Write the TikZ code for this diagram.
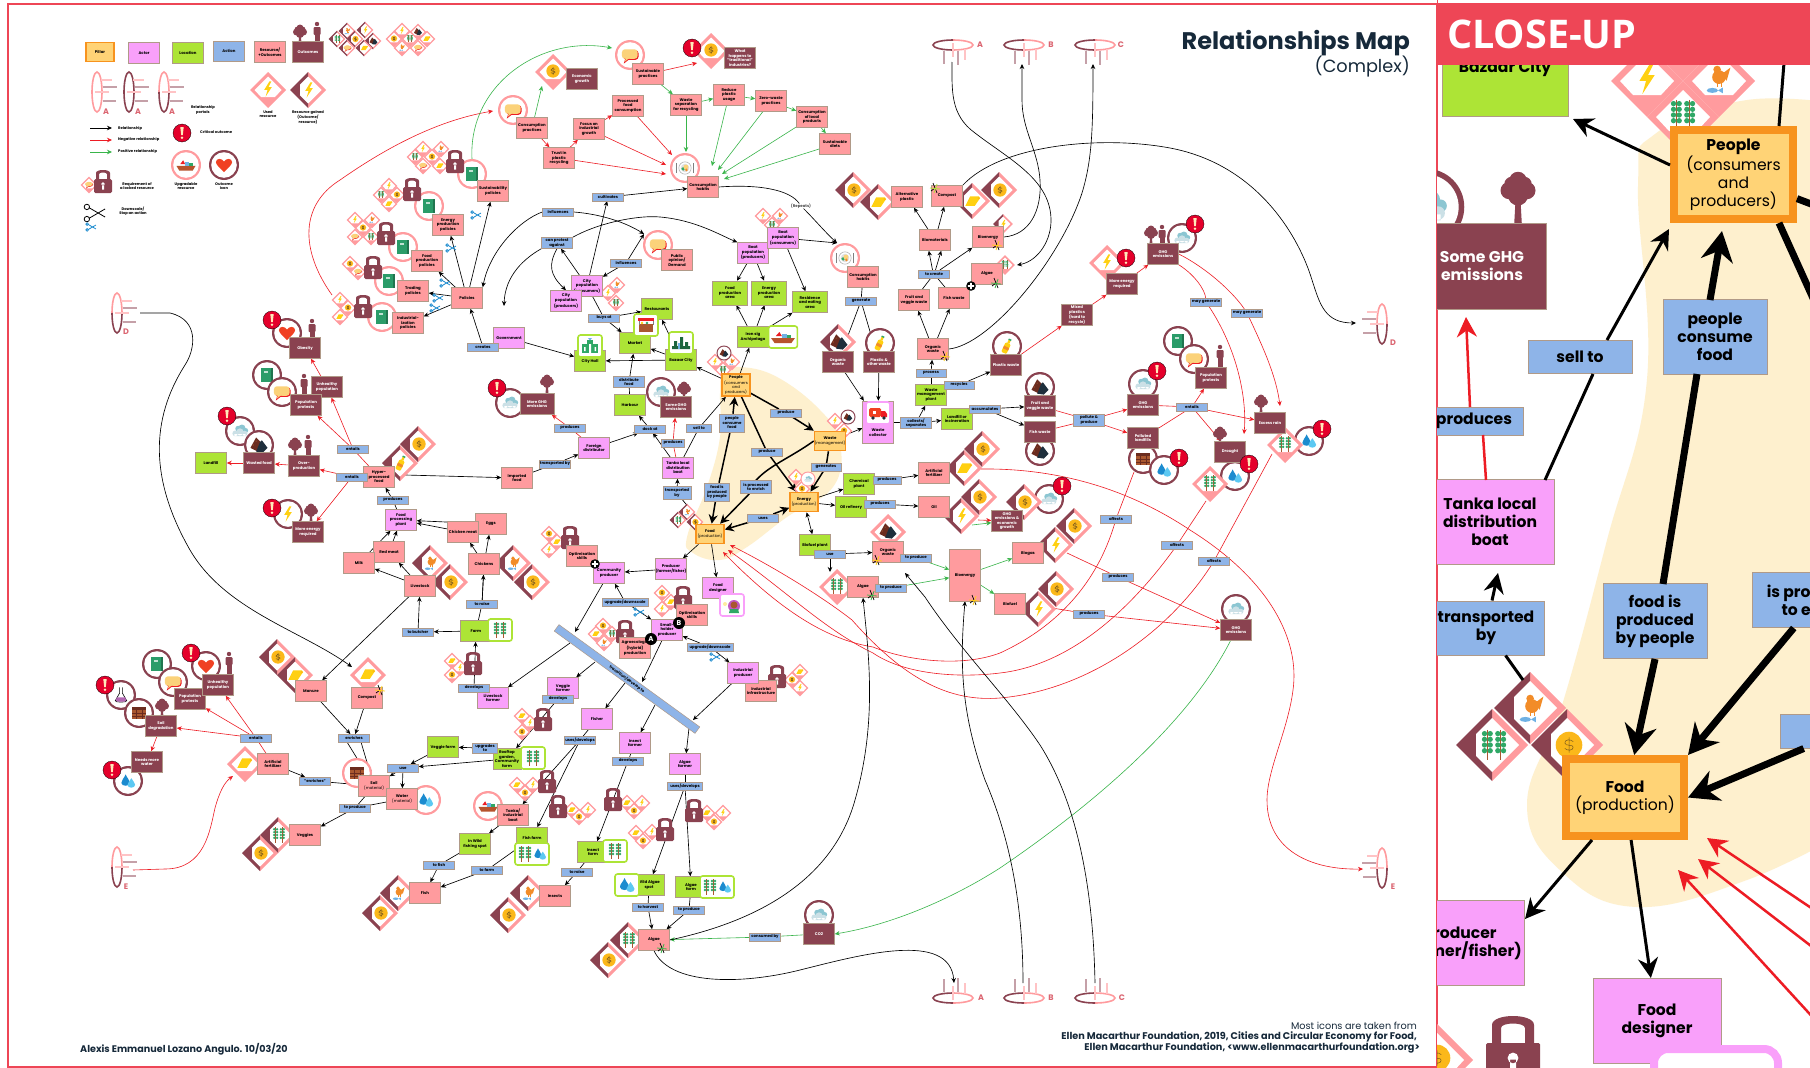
\documentclass[tikz,border=0pt]{standalone}
\usepackage{fontspec}
\setmainfont{Poppins}
\newfontfamily\closefont{Open Sans}
\usetikzlibrary{arrows.meta}

\definecolor{resfill}{HTML}{FF9B9E}
\definecolor{outfill}{HTML}{8A4250}
\definecolor{actorfill}{HTML}{F9A0FA}
\definecolor{locfill}{HTML}{ADE436}
\definecolor{actfill}{HTML}{8EB4E8}
\definecolor{pilfill}{HTML}{FFD376}
\definecolor{pilline}{HTML}{F7931E}
\definecolor{boxline}{HTML}{B09A88}
\definecolor{blobfill}{HTML}{FEF0CE}
\definecolor{badred}{HTML}{ED1C24}
\definecolor{goodgreen}{HTML}{39B54A}
\definecolor{framered}{HTML}{EE4656}
\definecolor{alertred}{HTML}{E4002B}
\definecolor{titleink}{HTML}{16293A}
\definecolor{portalink}{HTML}{DB6470}
\definecolor{boltyel}{HTML}{FFD011}
\definecolor{coinyel}{HTML}{FBB81A}
\definecolor{coinink}{HTML}{7A5A1E}
\definecolor{cloudA}{HTML}{8CC6D2}
\definecolor{cloudB}{HTML}{CBE0E6}
\definecolor{heartred}{HTML}{F04123}
\definecolor{bookgreen}{HTML}{2A9C69}
\definecolor{bubbleyel}{HTML}{FBD27A}
\definecolor{plantgreen}{HTML}{2FA866}
\definecolor{dropblue}{HTML}{1B8BCF}
\definecolor{dropsky}{HTML}{5CC8F2}
\definecolor{soilbrown}{HTML}{A9572F}
\definecolor{wastenavy}{HTML}{1E2F3C}
\definecolor{wastebrown}{HTML}{6B2C1F}
\definecolor{henorange}{HTML}{F28C28}
\definecolor{fishblue}{HTML}{6FB1E4}

\pgfdeclarelayer{back}
\pgfsetlayers{back,main}

\tikzset{
    basebox/.style={draw=boxline, line width=.5pt, inner sep=0pt, align=center,
        minimum width=31pt, minimum height=21pt, text=black,
        font=\fontsize{3.9}{4.5}\selectfont\bfseries},
    resbox/.style={basebox, fill=resfill},
    outbox/.style={basebox, fill=outfill, text=white},
    actorbox/.style={basebox, fill=actorfill},
    locbox/.style={basebox, fill=locfill},
    actbox/.style={basebox, fill=actfill, minimum height=7.5pt},
    pillarbox/.style={basebox, fill=pilfill, draw=pilline, line width=1.6pt,
        minimum width=28pt, minimum height=19pt, font=\fontsize{3.9}{4.5}\selectfont},
    lab/.style={inner sep=0pt, align=center, font=\fontsize{3.7}{4.5}\selectfont\bfseries},
    portallabel/.style={inner sep=0pt, text=portalink, font=\fontsize{8}{8}\selectfont\bfseries},
    big/.style={line width=1pt, font=\fontsize{15.6}{18}\selectfont\bfseries},
    bigpillar/.style={line width=8pt, font=\fontsize{15.6}{18}\selectfont},
    rel/.style={draw=black, line width=.65pt, ->},
    relline/.style={draw=black, line width=.65pt},
    thickrel/.style={draw=black, line width=1.5pt, -{Stealth[length=9pt,width=9pt]}},
    thickline/.style={draw=black, line width=1.5pt},
    badrel/.style={draw=badred, line width=.6pt, ->},
    badline/.style={draw=badred, line width=.6pt},
    goodrel/.style={draw=goodgreen, line width=.6pt, ->},
    goodline/.style={draw=goodgreen, line width=.6pt},
    panelthick/.style={draw=black, line width=7pt, -{Stealth[length=30pt,width=32pt]}},
    panelmid/.style={draw=black, line width=3pt, -{Stealth[length=20pt,width=20pt]}},
    panelbad/.style={draw=badred, line width=2.5pt, -{Stealth[length=20pt,width=20pt]}},
    % glyphs, all about 16 across
    pics/gbolt/.style={code={\fill[boltyel] (1.5,-8)--(-4,1)--(-.5,1)--(-2.5,8)--(4,-2)--(.5,-2)--(3.5,-8)--cycle;}},
    pics/gcoin/.style={code={\fill[coinyel] (0,0) circle (7);
        \draw[coinink,line width=.5pt] (2.2,-1.8) .. controls (1,-3.2) and (-2.5,-3) .. (-2.2,-1) .. controls (-2,.8) and (2.2,-.6) .. (2.2,1.2) .. controls (2.2,3) and (-1,3.2) .. (-2.2,1.8) (0,-4)--(0,4);}},
    pics/gcloud/.style={code={\fill[cloudA] (2,-3) circle (3.8) (-2,-2.5) circle (3) (6,-.5) circle (2.6);
        \fill[cloudB] (-5,2.5) circle (3) (0,1) circle (3.8) (5,2.5) circle (2.8) (-6,3) rectangle (6,5.5);}},
    pics/gheart/.style={code={\fill[heartred] (0,7.5) .. controls (-4,3) and (-8.5,0) .. (-8.5,-3) .. controls (-8.5,-7.5) and (-2,-7.5) .. (0,-3.5) .. controls (2,-7.5) and (8.5,-7.5) .. (8.5,-3) .. controls (8.5,0) and (4,3) .. (0,7.5) -- cycle;}},
    pics/gbook/.style={code={\fill[bookgreen!75!black] (-4,-7) rectangle (6,7); \fill[bookgreen] (-6,-7) rectangle (4,7); \fill[white!70!bookgreen] (-3.5,-4.5) rectangle (1.5,-2.5);}},
    pics/gbubble/.style={code={\fill[badred,rounded corners=3pt] (-7,-5) rectangle (9,5);
        \fill[bubbleyel,rounded corners=3pt] (-8.5,-6) rectangle (8,4); \fill[badred] (-5,4)--(-6.5,9)--(0,4)--cycle; \fill[bubbleyel] (-4,3)--(-5.5,7)--(-.5,3)--cycle;}},
    pics/gplate/.style={code={\draw[gray!60,line width=.6pt,fill=white] (0,0) circle (6.5); \fill[gray!25] (0,0) circle (4.5);
        \fill[plantgreen] (-2,1) circle (2); \fill[bubbleyel] (1,-1) circle (2.6); \fill[henorange] (1.5,2) circle (1.5);
        \draw[gray,line width=.5pt] (-9,-5)--(-9,5) (9,-5)--(9,5);}},
    pics/gplant/.style={code={\foreach \sx in {-3.5,3.5} {\draw[soilbrown,line width=.5pt] (\sx,-8)--(\sx,8);
        \foreach \sy in {-6,-3,0,3} {\fill[plantgreen] (\sx-1.5,\sy) circle (1.4) (\sx+1.5,\sy) circle (1.4);}}}},
    pics/gdrop/.style={code={\fill[dropblue] (-2.5,-7) .. controls (-4,-3) and (-7,-1) .. (-7,2) .. controls (-7,6) and (2,6) .. (2,2) .. controls (2,-1) and (-1,-3) .. (-2.5,-7) -- cycle;
        \fill[dropsky] (3.5,-3) .. controls (2,0) and (-.5,2) .. (-.5,4) .. controls (-.5,8) and (7.5,8) .. (7.5,4) .. controls (7.5,2) and (5,0) .. (3.5,-3) -- cycle;}},
    pics/gsoil/.style={code={\fill[soilbrown] (-7,-6) rectangle (7,6); \fill[wastebrown] (-7,-6) rectangle (7,-3);
        \draw[wastebrown,line width=.4pt] (-7,0)--(7,0) (-7,3)--(7,3) (-3,-3)--(-3,6) (3,-3)--(3,6);}},
    pics/gchicken/.style={code={\fill[henorange] (-1,-5) circle (2) (0,-1) circle (3.6) (2,-3)--(6,-6)--(4,1)--cycle; \draw[henorange,line width=.5pt] (-1,2)--(-1,4) (1,2)--(1,4);
        \fill[fishblue] (-3.5,6) ellipse (3 and 1.3); \fill[fishblue] (-.5,6)--(2,4.5)--(2,7.5)--cycle;}},
    pics/gplastic/.style={code={\fill[boltyel] (-3,-5)--(6,-5) .. controls (8,-5) and (8,-1) .. (6,-1) -- (2,5)--(-8,5)--cycle; \fill[coinyel] (6,-3) circle (1.2);}},
    pics/gwaste/.style={code={\fill[wastebrown] (-9,3)--(-3,-8)--(2,-3)--(-1,7)--cycle; \fill[wastenavy] (-3,7)--(1,-3)--(3,-5)--(9,3)--(4,8)--cycle; \fill[soilbrown] (-6,0) circle (.6) (-3,-4) circle (.6);}},
    pics/gboat/.style={code={\fill[soilbrown!80!heartred] (-10,1)--(10,1)--(7,6)--(-7,6)--cycle; \fill[badred] (-6,-1)--(-3,-5)--(-1,-1)--cycle; \fill[fishblue] (-1,-3) rectangle (3,1); \fill[plantgreen] (3,-2) rectangle (7,1);}},
    pics/gbottle/.style={code={\begin{scope}[rotate=-25]\fill[boltyel,rounded corners=1pt] (-3,-3) rectangle (3,8); \fill[boltyel] (-1.2,-7) rectangle (1.2,-3); \fill[plantgreen] (-1.5,-8) rectangle (1.5,-6.5); \fill[henorange] (-3,1) rectangle (3,4);\end{scope}}},
    pics/gflask/.style={code={\draw[black,line width=.6pt,fill=white] (-1.5,-8)--(-1.5,-2)--(-6,6) .. controls (-6.5,8) and (6.5,8) .. (6,6) -- (1.5,-2)--(1.5,-8); \fill[violet!60] (-4.5,2.5)--(4.5,2.5)--(5.5,6) .. controls (5.5,7.5) and (-5.5,7.5) .. (-5.5,6) -- cycle;}},
    pics/gcity/.style={code={\fill[plantgreen] (-8,7) rectangle (8,-2); \fill[plantgreen] (-3,-6) rectangle (3,7); \fill[fishblue] (-2,-8)--(2,-8)--(0,-5.5)--cycle; \fill[white] (-6,1) rectangle (-4.5,5) (4.5,1) rectangle (6,5) (-1,-2) rectangle (1,7);}},
    pics/gmarket/.style={code={\fill[soilbrown] (-7,-1) rectangle (7,7); \fill[badred] (-8,-7) rectangle (8,-4); \draw[gray,line width=.5pt] (-7,-4)--(-7,0) (7,-4)--(7,0); \fill[boltyel] (-4,-2) circle (1.4); \fill[plantgreen] (1,-2) circle (1.4);}},
    pics/gbazaar/.style={code={\fill[plantgreen!60!black] (-9,6) rectangle (9,3) (-7,6) rectangle (-4,-2) (-1,6) rectangle (2,-6) (4,6) rectangle (7,-1); \fill[fishblue] (-3,6) rectangle (-1,0);}},
    pics/gtruck/.style={code={\fill[heartred,rounded corners=1.5pt] (-9,-5) rectangle (3,4); \fill[badred] (3,-2)--(7,-2)--(9,1)--(9,4)--(3,4)--cycle; \fill[wastenavy] (-5,5) circle (1.8) (6,5) circle (1.8); \fill[white] (-5,-2) rectangle (-2,1);}},
    pics/gdesigner/.style={code={\fill[violet!45!actorfill] (2,1) circle (6); \fill[soilbrown] (2,0) circle (3.5); \fill[plantgreen] (-3,8)--(7,8)--(6,4)--(-2,4)--cycle; \fill[boltyel!40] (-7,-1) circle (2);}},
    pics/gsciss/.style={code={\draw[#1,line width=.8pt] (-6,-4)--(6,3) (-6,4)--(6,-3); \draw[#1,line width=.8pt] (-7.5,-4.5) circle (2) (-7.5,4.5) circle (2);}},
    pics/gtree/.style={code={\fill[outfill] (-1,3)--(1,3)--(1.5,12)--(-1.5,12)--cycle; \fill[outfill] (0,-5) circle (3.5) (-3.5,-1) circle (3.5) (3.5,-1) circle (3.5) (0,1) circle (4) (-2.5,-3.5) circle (3) (2.5,-3.5) circle (3);}},
    pics/gperson/.style={code={\fill[outfill] (0,-9) circle (2.2); \fill[outfill,rounded corners=1pt] (-3.5,-6) rectangle (3.5,2); \fill[outfill] (-2.5,1) rectangle (2.5,11);}},
    pics/galert/.style={code={\fill[alertred] (0,0) circle (9); \draw[black,line width=.3pt] (0,0) circle (9);
        \fill[pilfill!50] (-1.7,-6)--(1.7,-6)--(.8,2.2)--(-.8,2.2)--cycle (0,4.7) circle (1.4);}},
    pics/glock/.style={code={\fill[outfill,rounded corners=1.5pt] (-9,-3) rectangle (9,11);
        \fill[outfill,even odd rule] (-7,-1)--(-7,-9) .. controls (-7,-13) and (7,-13) .. (7,-9)--(7,-1)--cycle (-4,-1)--(-4,-8) .. controls (-4,-10) and (4,-10) .. (4,-8)--(4,-1)--cycle;
        \fill[white] (0,2) circle (1.8) (-1,2.5) rectangle (1,7.5);}},
    pics/gplus/.style={code={\fill[black] (0,0) circle (6); \fill[white] (-1,-4) rectangle (1,4) (-4,-1) rectangle (4,1);}},
    pics/gmark/.style={code={\draw[black,line width=.7pt] (-2,-5)--(2,5) (-4,3)--(0,0); \draw[#1,line width=.8pt] (-5,0)--(5,1) (2,-4)--(-1,5);}},
    % tiles and rings that hold a glyph
    pics/ut/.style={code={\fill[resfill] (-18,0)--(0,-18)--(18,0)--(0,18)--cycle;
        \fill[white] (-13.5,0)--(0,-13.5)--(13.5,0)--(7,7)--(-7,7)--cycle; \pic[transform shape,scale=.95] at (0,-1) {#1};}},
    pics/gt/.style={code={\fill[resfill] (0,-18)--(18,0)--(0,18)--cycle; \fill[outfill] (0,-18)--(-18,0)--(0,18)--cycle;
        \fill[white] (-8,-5.5)--(0,-13.5)--(13.5,0)--(0,13.5)--(-8,5.5)--cycle; \pic[transform shape,scale=.95] at (1,0) {#1};}},
    pics/pr/.style={code={\fill[resfill] (0,0) circle (15); \fill[white] (0,0) circle (12.8); \pic[transform shape,scale=.95] {#1};}},
    pics/dr/.style={code={\fill[outfill] (0,0) circle (15); \fill[white] (0,0) circle (12.8); \pic[transform shape,scale=.95] {#1};}},
    pics/gframe/.style={code={\draw[locfill,line width=1.6pt,fill=white,rounded corners=2.5pt] (-12,-11) rectangle (12,11); \pic[transform shape] {#1};}},
    pics/pframe/.style={code={\draw[actorfill,line width=1.6pt,fill=white,rounded corners=2.5pt] (-12,-11) rectangle (12,11); \pic[transform shape] {#1};}},
    pics/gframewide/.style 2 args={code={\draw[locfill,line width=1.6pt,fill=white,rounded corners=2.5pt] (-17,-11) rectangle (17,11); \pic at (-7,0) {#1}; \pic[transform shape,scale=.8] at (8,0) {#2};}},
    pics/portal/.style 2 args={code={
        \draw[#1,line width=1.6pt] (-5,0) .. controls (-5,-11) and (-2.8,-20) .. (0,-20) .. controls (2.8,-20) and (5,-11) .. (5,0);
        \draw[#2,line width=1.6pt] (-5,0) .. controls (-5,11) and (-2.8,20) .. (0,20) .. controls (2.8,20) and (5,11) .. (5,0);
        \draw[resfill!60,line width=1.5pt] (4,-12)--(15,-12) (-2,0)--(12,0);
        \draw[outfill!50,line width=1.5pt] (6,-5)--(20,-5) (6,9)--(19,9);}},
}

\newcommand{\tiles}[1]{\foreach \x/\y/\g in {#1} {\pic[scale=.47] at (\x,\y) {ut=\g};}}
\newcommand{\gtiles}[1]{\foreach \x/\y/\g in {#1} {\pic[scale=.47] at (\x,\y) {gt=\g};}}

\begin{document}
\begin{tikzpicture}[x=1pt, y=-1pt, >={Stealth[length=5pt,width=4.5pt]}]
    \useasboundingbox (0,0) rectangle (1810,1068);
    \begin{pgfonlayer}{back}
        \fill[white] (0,0) rectangle (1810,1068);
        \fill[blobfill] plot[smooth cycle, tension=.7] coordinates {(740,367) (777,377) (820,410) (840,443) (833,487) (787,517) (747,547) (720,560) (693,553) (687,537) (707,487) (720,437) (720,393) (723,373)};
    \end{pgfonlayer}
    \draw[framered, line width=2pt] (8,4) rectangle (1437,1067);

    % icons behind the boxes
    \foreach \x/\y/\g in {472/174/gbook,429/206/gbook,403/247/gbook,389/281/gbook,382/317/gbook,513/110/gbubble,630/55/gbubble,658/245/gbubble,685/168/gplate,845/258/gplate,357/773/gsoil,426/800/gdrop,488/806/gboat,186/165/gboat} {
        \pic at (\x,\y) {pr=\g};
    }
    \foreach \x/\y/\g in {224/165/gheart,287/333/gheart,267/375/gbook,282/392/gbubble,240/431/gcloud,259/445/gwaste,288/514/gbolt,510/403/gcloud,661/392/gcloud,880/343/gbottle,1007/346/gbottle,1182/238/gcloud,1040/387/gwaste,1040/451/gwaste,1143/384/gcloud,1143/459/gsoil,1164/470/gdrop,1178/341/gbook,1194/359/gbubble,1309/441/gdrop,1235/476/gdrop,1049/499/gcloud,1236/609/gcloud,819/915/gcloud,121/695/gflask,139/713/gsoil,157/664/gbook,173/682/gbubble,206/666/gheart,128/781/gdrop} {
        \pic at (\x,\y) {dr=\g};
    }
    \foreach \x/\y/\g in {268/90/gbolt,368/675/gplastic,245/764/gplastic,711/51/gcoin,553/72/gcoin,1107/263/gbolt,888/532/gwaste,1285/445/gplant,1210/484/gplant,837/587/gplant} {
        \pic at (\x,\y) {ut=\g};
    }
    \foreach \x/\y/\g in {308/90/gbolt,418/444/gcoin,400/463/gbottle,853/190/gcoin,878/202/gplastic,972/201/gplastic,999/190/gcoin,964/468/gplastic,982/449/gcoin,961/516/gbolt,979/497/gcoin,1024/502/gcoin,1055/545/gbolt,1074/526/gcoin,1038/609/gbolt,1056/589/gcoin,430/563/gchicken,450/582/gcoin,513/563/gchicken,532/582/gcoin,277/657/gcoin,295/675/gplastic,278/835/gplant,260/853/gcoin,398/893/gchicken,380/913/gcoin,528/893/gchicken,508/915/gcoin,628/940/gplant,608/960/gcoin,838/342/gwaste} {
        \pic at (\x,\y) {gt=\g};
    }
    \pic[scale=.55] at (1003,224) {gt=gbolt};
    \pic[scale=.55] at (1005,265) {ut=gplant};
    \gtiles{347/31/gchicken,365/30/gbolt,337/39/gplant,355/39/gcoin,373/41/gwaste,347/48/gbubble,364/48/gplastic,687/512/gchicken,678/520/gplant,695/522/gcoin}
    \tiles{402/31/gbolt,418/32/gwaste,394/39/gcoin,410/39/gplant,427/39/gplastic,402/48/gchicken,418/48/gbubble,89/185/gbubble}
    \tiles{423/149/gbolt,441/149/gchicken,415/157/gplant,432/157/gcoin,423/166/gbubble,440/166/gplastic}
    \tiles{389/186/gbolt,381/195/gplant,397/195/gcoin,389/204/gplastic}
    \tiles{355/220/gbolt,372/220/gchicken,363/228/gcoin,355/237/gbubble,371/237/gplant}
    \tiles{350/264/gcoin,358/272/gbubble,340/300/gbolt,348/308/gcoin,340/317/gplastic}
    \tiles{763/216/gbolt,780/216/gchicken,772/225/gplant,617/285/gchicken,608/293/gbolt,616/303/gplant}
    \tiles{715/362/gbolt,732/362/gchicken,723/370/gplant,835/421/gbolt,844/431/gcoin,796/477/gbolt,802/489/gcoin}
    \tiles{549/534/gcoin,557/542/gplastic,549/550/gbolt,662/593/gcoin,671/602/gplastic,662/609/gbolt}
    \tiles{603/626/gcoin,612/634/gplant,596/634/gplastic,604/643/gchicken,800/672/gplastic,792/680/gcoin,800/688/gbolt}
    \tiles{452/661/gplastic,460/668/gbolt,452/675/gcoin,522/716/gplastic,530/723/gbolt,522/732/gcoin,517/785/gplastic,533/785/gbolt,525/793/gcoin}
    \tiles{572/810/gplastic,588/810/gbolt,579/817/gcoin,627/803/gplastic,642/803/gbolt,634/811/gcoin,636/833/gplastic,652/832/gbolt,643/841/gcoin,707/813/gplastic,723/813/gbolt,714/822/gcoin}
    \pic[scale=.5] at (724,353) {dr=gwaste};
    \pic[scale=.5] at (848,417) {dr=gwaste};
    \pic[scale=.5] at (808,479) {pr=gcloud};
    \foreach \x/\y in {103/182,455/162,412/190,386/234,373/268,363/307,473/664,543/720,547/782,570/538,683/598,625/632,777/677,558/807,613/800,665/830,694/811} {
        \pic at (\x,\y) {glock};
    }
    \foreach \x/\y in {300/33,547/383,684/390,1151/234,1261/403,1220/435,311/512,295/446,162/707} {
        \pic at (\x,\y) {gtree};
    }
    \foreach \x/\y in {317/33,312/330,304/385,1220/356,229/663,308/446,1162/236} {
        \pic at (\x,\y) {gperson};
    }
    \pic at (97,92) {portal={resfill}{resfill}};
    \pic at (129,92) {portal={outfill}{outfill}};
    \pic at (164,92) {portal={resfill}{outfill}};
    \pic at (117,313) {portal={resfill}{outfill}};
    \pic at (117,867) {portal={resfill}{outfill}};
    \pic[xscale=-1] at (1382,324) {portal={resfill}{outfill}};
    \pic[xscale=-1] at (1382,868) {portal={resfill}{outfill}};
    \foreach \x in {953,1024,1095} {
        \pic[rotate=-90] at (\x,45) {portal={resfill}{outfill}};
        \pic[rotate=-90,xscale=-1] at (\x,998) {portal={resfill}{outfill}};
    }

    % legend
    \node[pillarbox] (lgPillar) at (100,52) {\textbf{Pillar}};
    \node[actorbox] (lgActor) at (144,53) {Actor};
    \node[locbox] (lgLoc) at (188,53) {Location};
    \node[actbox, minimum height=20pt] (lgAct) at (229,51) {Action};
    \node[resbox] (lgRes) at (270,52) {Resource/\\+Outcomes};
    \node[outbox] (lgOut) at (308,52) {Outcomes};
    \node[lab] (lgPortal) at (203,110) {Relationship\\portals};
    \node[lab] (lgUsed) at (268,114) {Used\\resource};
    \node[lab] (lgGained) at (308,117) {Resource gained\\(Outcome/\\resource)};
    \node[lab, anchor=west] (lgRel) at (118,129) {Relationship};
    \node[lab, anchor=west] (lgNeg) at (118,140) {Negative relationship};
    \node[lab, anchor=west] (lgPos) at (118,152) {Positive relationship};
    \node[lab, anchor=west] (lgCrit) at (200,132) {Critical outcome};
    \node[lab] (lgUp) at (186,186) {Upgradable\\resource};
    \node[lab] (lgIcon) at (224,186) {Outcome\\icon};
    \node[lab] (lgLock) at (137,186) {Requirement of\\a locked resource};
    \node[lab] (lgScis) at (133,211) {Downscale/\\Stop an action};
    \coordinate (lgA1) at (90,128); \coordinate (lgA2) at (112,128);
    \coordinate (lgB1) at (90,140); \coordinate (lgB2) at (112,140);
    \coordinate (lgC1) at (90,152); \coordinate (lgC2) at (112,152);

    % title and footers
    \node[anchor=east, inner sep=0pt, text=titleink, font=\fontsize{24}{26}\selectfont\bfseries] (title) at (1410,43) {Relationships Map};
    \node[anchor=east, inner sep=0pt, text=titleink, font=\fontsize{17.7}{20}\selectfont] (subtitle) at (1410,67) {(Complex)};
    \node[anchor=west, inner sep=0pt, text=titleink, font=\fontsize{9.6}{11}\selectfont\bfseries] (signature) at (80,1049) {Alexis Emmanuel Lozano Angulo. 10/03/20};
    \node[anchor=east, inner sep=0pt, text=titleink, font=\fontsize{9.7}{11}\selectfont] (foot1) at (1417,1026) {Most icons are taken from};
    \node[anchor=east, inner sep=0pt, text=titleink, font=\fontsize{9.7}{11}\selectfont\bfseries] (foot2) at (1417,1037) {Ellen Macarthur Foundation, 2019, Cities and Circular Economy for Food,};
    \node[anchor=east, inner sep=0pt, text=titleink, font=\fontsize{9.7}{11}\selectfont\bfseries] (foot3) at (1420,1048) {Ellen Macarthur Foundation, <www.ellenmacarthurfoundation.org>};

    % portal letters
    \foreach \x/\y/\t/\n in {106/112/A/lpA,138/112/A/lpB,172/112/A/lpC,980/45/A/ltA,1051/45/B/ltB,1121/45/C/ltC,981/998/A/lbA,1051/998/B/lbB,1122/998/C/lbC,126/332/D/llD,1393/343/D/lrD,126/887/E/llE,1393/887/E/lrE} {
        \node[portallabel] (\n) at (\x,\y) {\t};
    }

    % resources
    \node[resbox] (susPol) at (493,191) {Sustainability\\policies};
    \node[resbox] (enePol) at (448,225) {Energy\\production\\policies};
    \node[resbox] (fooPol) at (427,261) {Food\\production\\policies};
    \node[resbox] (traPol) at (413,291) {Trading\\policies};
    \node[resbox] (indPol) at (408,323) {Industrial-\\ization\\policies};
    \node[resbox] (policies) at (467,298) {Policies};
    \node[resbox] (conPrac) at (532,128) {Consumption\\practices};
    \node[resbox] (susPrac) at (648,74) {Sustainable\\practices};
    \node[resbox] (trust) at (559,158) {Trust in\\plastic\\recycling};
    \node[resbox] (focus) at (589,129) {Focus on\\industrial\\growth};
    \node[resbox] (processed) at (628,106) {Processed\\food\\consumption};
    \node[resbox] (wasteSep) at (686,105) {Waste\\separation\\for recycling};
    \node[resbox] (reduce) at (729,95) {Reduce\\plastic\\usage};
    \node[resbox] (zeroW) at (771,101) {Zero-waste\\practices};
    \node[resbox] (localP) at (812,117) {Consumption\\of local\\products};
    \node[resbox] (susDiet) at (835,144) {Sustainable\\diets};
    \node[resbox] (habitsA) at (703,187) {Consumption\\habits};
    \node[resbox] (habitsB) at (863,277) {Consumption\\habits};
    \node[resbox] (opinion) at (677,260) {Public\\opinion/\\Demand};
    \node[resbox] (altPlastic) at (907,197) {Alternative\\plastic};
    \node[resbox] (compostA) at (947,196) {Compost};
    \node[resbox] (biomat) at (935,240) {Biomaterials};
    \node[resbox] (bioenA) at (988,237) {Bioenergy};
    \node[resbox] (algaeA) at (987,274) {Algae};
    \node[resbox] (fruitW) at (914,300) {Fruit and\\veggie waste};
    \node[resbox] (fishW) at (954,298) {Fish waste};
    \node[resbox] (orgA) at (933,349) {Organic\\waste};
    \node[resbox] (orgB) at (888,552) {Organic\\waste};
    \node[resbox] (hyper) at (379,477) {Hyper-\\processed\\food};
    \node[resbox] (imported) at (517,478) {Imported\\food};
    \node[resbox] (eggs) at (491,524) {Eggs};
    \node[resbox] (chMeat) at (463,532) {Chicken meat};
    \node[resbox] (redMeat) at (389,552) {Red meat};
    \node[resbox] (milk) at (359,563) {Milk};
    \node[resbox] (livestock) at (420,586) {Livestock};
    \node[resbox] (chickens) at (484,564) {Chickens};
    \node[resbox] (optimA) at (582,556) {Optimisation\\skills};
    \node[resbox] (optimB) at (692,615) {Optimisation\\skills};
    \node[resbox] (agro) at (635,648) {Agroecologic\\(hybrid)\\production};
    \node[resbox] (indInfra) at (761,691) {Industrial\\infrastructure};
    \node[resbox] (artFertA) at (934,473) {Artificial\\fertilizer};
    \node[resbox] (oil) at (934,507) {Oil};
    \node[resbox] (biogas) at (1028,553) {Biogas};
    \node[resbox, minimum height=52pt] (bioenB) at (965,575) {Bioenergy};
    \node[resbox] (biofuel) at (1010,604) {Biofuel};
    \node[resbox] (algaeB) at (863,587) {Algae};
    \node[resbox] (algaeC) at (654,940) {Algae};
    \node[resbox] (manure) at (311,691) {Manure};
    \node[resbox] (compostB) at (367,698) {Compost};
    \node[resbox] (soil) at (374,786) {Soil\\{\mdseries (material)}};
    \node[resbox] (water) at (402,799) {Water\\{\mdseries (material)}};
    \node[resbox] (artFertB) at (273,764) {Artificial\\fertilizer};
    \node[resbox] (veggies) at (305,835) {Veggies};
    \node[resbox] (fish) at (425,893) {Fish};
    \node[resbox] (insects) at (555,896) {Insects};
    \node[resbox] (boatRes) at (513,815) {Tanka/\\Industrial\\boat};

    % outcomes
    \node[outbox] (econ) at (582,79) {Economic\\growth};
    \node[outbox] (traditional) at (740,58) {What\\happens to\\"traditional"\\industries?};
    \node[outbox, minimum width=34pt] (moreGhgA) at (537,404) {More GHG\\emissions};
    \node[outbox] (someGhg) at (676,407) {Some GHG\\emissions};
    \node[outbox] (obesity) at (305,348) {Obesity};
    \node[outbox] (unhealthyA) at (327,387) {Unhealthy\\population};
    \node[outbox] (protestA) at (306,405) {Population\\protests};
    \node[outbox] (wastedF) at (259,463) {Wasted food};
    \node[outbox] (overProd) at (304,466) {Over-\\production};
    \node[outbox] (energyA) at (308,532) {More energy\\required};
    \node[outbox] (orgOut) at (838,362) {Organic\\waste};
    \node[outbox] (plasticOut) at (879,362) {Plastic \&\\other waste};
    \node[outbox] (plasticW) at (1006,365) {Plastic waste};
    \node[outbox] (mixed) at (1077,315) {Mixed\\plastics\\(hard to\\recycle)};
    \node[outbox] (energyB) at (1122,284) {More energy\\required};
    \node[outbox] (ghgA) at (1163,254) {GHG\\emissions};
    \node[outbox] (fruitOut) at (1040,406) {Fruit and\\veggie waste};
    \node[outbox] (fishOut) at (1040,432) {Fish waste};
    \node[outbox] (ghgB) at (1143,405) {GHG\\emissions};
    \node[outbox] (polluted) at (1143,438) {Polluted\\landfills};
    \node[outbox] (protestB) at (1211,378) {Population\\protests};
    \node[outbox] (excess) at (1270,423) {Excess rain};
    \node[outbox] (drought) at (1230,452) {Drought};
    \node[outbox] (ghgEco) at (1007,521) {GHG\\emissions \&\\economic\\growth};
    \node[outbox] (ghgC) at (1236,630) {GHG\\emissions};
    \node[outbox] (co2) at (819,934) {CO2};
    \node[outbox] (soilDeg) at (161,726) {Soil\\degradation};
    \node[outbox] (protestC) at (190,699) {Population\\protests};
    \node[outbox] (unhealthyC) at (218,685) {Unhealthy\\population};
    \node[outbox] (needsW) at (147,762) {Needs more\\water};

    % actors
    \node[actorbox] (govt) at (509,338) {Government};
    \node[actorbox] (cityC) at (587,286) {City\\population\\(consumers)};
    \node[actorbox] (cityP) at (566,301) {City\\population\\(producers)};
    \node[actorbox] (boatP) at (753,253) {Boat\\population\\(producers)};
    \node[actorbox] (boatC) at (783,238) {Boat\\population\\(consumers)};
    \node[actorbox] (foreign) at (594,448) {Foreign\\distributor};
    \node[actorbox] (tanka) at (678,468) {Tanka local\\distribution\\boat};
    \node[actorbox, minimum height=42pt] (collector) at (878,422) {\\[20pt]Waste\\collector};
    \node[actorbox] (producer) at (671,569) {Producer\\(farmer/fisher)};
    \node[actorbox] (community) at (609,573) {Community\\producer};
    \node[actorbox] (designer) at (718,588) {Food\\designer};
    \node[actorbox] (foodPlant) at (401,520) {Food\\processing\\plant};
    \node[actorbox] (smallH) at (667,630) {Small-\\holder\\producer};
    \node[actorbox] (indProd) at (743,673) {Industrial\\producer};
    \node[actorbox] (vegFarmer) at (563,688) {Veggie\\farmer};
    \node[actorbox] (fisher) at (597,719) {Fisher};
    \node[actorbox] (insFarmer) at (635,743) {Insect\\farmer};
    \node[actorbox] (algFarmer) at (685,764) {Algae\\farmer};
    \node[actorbox] (livFarmer) at (493,698) {Livestock\\farmer};

    % locations
    \node[locbox] (restaurants) at (657,309) {Restaurants};
    \node[locbox] (market) at (635,343) {Market};
    \node[locbox] (bazaar) at (681,360) {Bazaar City};
    \node[locbox] (cityHall) at (590,361) {City Hall};
    \node[locbox] (harbour) at (630,405) {Harbour};
    \node[locbox] (ironSig) at (753,337) {Iron sig\\Archipelago};
    \node[locbox, minimum width=35pt, minimum height=24pt] (foodArea) at (730,293) {Food\\production\\area};
    \node[locbox, minimum width=35pt, minimum height=24pt] (energyArea) at (769,293) {Energy\\production\\area};
    \node[locbox, minimum width=35pt, minimum height=21pt] (residence) at (810,302) {Residence\\and eating\\area};
    \node[locbox] (wastePlant) at (931,395) {Waste\\management\\plant};
    \node[locbox] (landfillA) at (957,419) {Landfill or\\incineration};
    \node[locbox] (chemical) at (859,484) {Chemical\\plant};
    \node[locbox] (refinery) at (851,507) {Oil refinery};
    \node[locbox] (biofuelP) at (815,545) {Biofuel plant};
    \node[locbox] (landfillB) at (211,463) {Landfill};
    \node[locbox] (farm) at (476,631) {Farm};
    \node[locbox] (vegFarm) at (443,747) {Veggie farm};
    \node[locbox, minimum width=28pt] (rooftop) at (507,759) {Rooftop\\garden,\\Community\\farm};
    \node[locbox] (wildFish) at (475,844) {In Wild\\fishing spot};
    \node[locbox] (fishFarm) at (532,838) {Fish farm};
    \node[locbox] (insFarm) at (593,852) {Insect\\farm};
    \node[locbox] (wildAlg) at (649,885) {Wild Algae\\spot};
    \node[locbox] (algFarm) at (691,887) {Algae\\farm};

    % pillars
    \node[pillarbox, minimum height=22pt] (people) at (736,385) {\textbf{People}\\(consumers\\and\\producers)};
    \node[pillarbox, minimum width=31pt] (waste) at (830,441) {\textbf{Waste}\\(management)};
    \node[pillarbox] (energy) at (804,502) {\textbf{Energy}\\(production)};
    \node[pillarbox] (food) at (710,534) {\textbf{Food}\\(production)};

    % actions
    \node[actbox] (aCreates) at (483,347) {creates};
    \node[actbox] (aCult) at (608,197) {cultivates};
    \node[actbox] (aInflA) at (558,212) {Influences};
    \node[actbox, minimum height=11pt] (aProtest) at (557,243) {can protest\\against};
    \node[actbox] (aInflB) at (626,263) {Influences};
    \node[actbox] (aBuys) at (604,318) {buys at};
    \node[actbox, draw=none, fill=none, text=black!70, minimum width=0pt, minimum height=0pt] (aRepeats) at (801,206) {(Repeats)};
    \node[actbox] (aGenerate) at (861,301) {generate};
    \node[actbox] (aToCreate) at (934,274) {to create};
    \node[actbox, minimum width=30pt] (aProcess) at (931,373) {process};
    \node[actbox, minimum width=30pt] (aRecycles) at (959,385) {recycles};
    \node[actbox, minimum height=11pt] (aCollects) at (916,423) {collects/\\separates};
    \node[actbox] (aAccum) at (985,409) {accumulates};
    \node[actbox, minimum height=12pt] (aPollute) at (1089,420) {pollute \&\\produce};
    \node[actbox] (aEntailsR) at (1192,407) {entails};
    \node[actbox] (aMayA) at (1206,302) {may generate};
    \node[actbox] (aMayB) at (1247,313) {may generate};
    \node[actbox, minimum width=25pt, minimum height=18pt] (aConsume) at (732,423) {people\\consume\\food};
    \node[actbox, minimum width=25pt, minimum height=18pt] (aFoodBy) at (717,492) {food is\\produced\\by people};
    \node[actbox] (aProdA) at (786,413) {produce};
    \node[actbox] (aProdB) at (767,452) {produce};
    \node[actbox, minimum height=13pt] (aProc) at (756,487) {is processed\\to enrich};
    \node[actbox] (aUses) at (763,518) {uses};
    \node[actbox, minimum width=30pt] (aGens) at (826,467) {generates};
    \node[actbox, minimum width=25pt] (aSell) at (699,428) {sell to};
    \node[actbox] (aDock) at (650,429) {dock at};
    \node[actbox, minimum width=23pt] (aProdTanka) at (673,443) {produces};
    \node[actbox, minimum height=11pt] (aDistr) at (629,382) {distribute\\food};
    \node[actbox, minimum width=28pt, minimum height=13pt] (aTrans) at (677,493) {transported\\by};
    \node[actbox] (aProdForeign) at (570,428) {produces};
    \node[actbox] (aTransImp) at (555,464) {transported by};
    \node[actbox, minimum width=28pt] (aProdChem) at (887,480) {produces};
    \node[actbox] (aProdRef) at (880,504) {produces};
    \node[actbox] (aUse) at (830,554) {use};
    \node[actbox] (aToProdA) at (916,558) {to produce};
    \node[actbox] (aToProdB) at (891,588) {to produce};
    \node[actbox] (aAffA) at (1116,519) {affects};
    \node[actbox] (aAffB) at (1177,545) {affects};
    \node[actbox] (aAffC) at (1214,561) {affects};
    \node[actbox] (aProdGas) at (1118,577) {produces};
    \node[actbox] (aProdFuel) at (1089,614) {produces};
    \node[actbox] (aEntA) at (353,449) {entails};
    \node[actbox] (aEntB) at (352,477) {entails};
    \node[actbox] (aProdPlant) at (393,500) {produces};
    \node[actbox] (aRaise) at (482,604) {to raise};
    \node[actbox] (aButcher) at (418,632) {to butcher};
    \node[actbox] (aDevLiv) at (474,688) {develops};
    \node[actbox] (aEnrich) at (354,738) {enriches};
    \node[actbox] (aUseSoil) at (403,768) {use};
    \node[actbox] (aToVeg) at (355,808) {to produce};
    \node[actbox, minimum width=25pt, minimum height=10pt] (aUpgTo) at (485,748) {upgrades\\to};
    \node[actbox] (aEntC) at (256,738) {entails};
    \node[actbox] (aEnrichB) at (315,781) {"enriches"};
    \node[actbox] (aToFish) at (439,865) {to fish};
    \node[actbox] (aToFarm) at (487,870) {to farm};
    \node[actbox, minimum width=46pt] (aUpgA) at (625,602) {upgrade/downscale};
    \node[actbox, minimum width=46pt] (aUpgB) at (710,647) {upgrade/downscale};
    \node[actbox] (aDevVeg) at (558,699) {develops};
    \node[actbox] (aUseFisher) at (580,740) {uses/develops};
    \node[actbox] (aDevInsect) at (628,761) {develops};
    \node[actbox, minimum width=35pt] (aUseAlgae) at (685,786) {uses/develops};
    \node[actbox] (aRaiseIns) at (577,872) {to raise};
    \node[actbox] (aHarvest) at (648,907) {to harvest};
    \node[actbox] (aToAlgae) at (689,910) {to produce};
    \node[actbox] (aConsumed) at (765,937) {consumed by};
    \node[actbox, minimum width=174pt, minimum height=8pt, rotate=-36] (bar) at (627,679) {transition/develop to};

    % icons over the boxes
    \pic at (590,346) {gframe=gcity};
    \pic at (646,325) {gframe=gmarket};
    \pic at (681,343) {gframe=gbazaar};
    \pic[xscale=1.2] at (783,337) {gframe=gboat};
    \pic at (500,630) {gframe=gplant};
    \pic at (533,758) {gframe=gplant};
    \pic at (615,851) {gframe=gplant};
    \pic at (627,885) {gframe=gdrop};
    \pic at (532,854) {gframewide={gplant}{gdrop}};
    \pic at (717,887) {gframewide={gplant}{gdrop}};
    \pic at (878,413) {pframe=gtruck};
    \pic at (732,605) {pframe=gdesigner};
    \pic[scale=.8] at (971,286) {gplus};
    \pic[scale=.8] at (595,564) {gplus};
    \node[circle, fill=black, text=white, inner sep=0pt, minimum size=12pt, font=\fontsize{7}{7}\selectfont\bfseries] (markA) at (651,639) {A};
    \node[circle, fill=black, text=white, inner sep=0pt, minimum size=12pt, font=\fontsize{7}{7}\selectfont\bfseries] (markB) at (679,623) {B};
    \foreach \x/\y/\c in {935/188/locfill,997/245/boltyel,996/283/goodgreen,380/690/boltyel,945/356/boltyel,877/560/boltyel,974/600/boltyel,872/595/goodgreen,662/948/goodgreen} {
        \pic at (\x,\y) {gmark=\c};
    }
    \foreach \x/\y in {477/215,452/248,446/283,439/298,436/308,640/612,716/657,92/227} {
        \pic[scale=.65] at (\x,\y) {gsciss=dropblue};
    }
    \pic[scale=1.35] at (97,213) {gsciss=black};
    \foreach \x/\y in {182/133,272/320,227/416,272/508,497/388,692/48,1126/258,1195/224,1157/371,1179/458,1322/429,1249/464,1062/486,105/685,191/653,112/770} {
        \pic at (\x,\y) {galert};
    }

    % named ends for connectors that stop on an icon or run free
    \coordinate (rSusPol) at (472,159);
    \coordinate (rSusPrac) at (612,48);
    \coordinate (rIndPol) at (332,295);
    \coordinate (rConPrac) at (493,111);
    \coordinate (dEcon) at (542,86);
    \coordinate (dTrad) at (697,63);
    \coordinate (rHabA) at (672,155);
    \coordinate (rHabB) at (666,165);
    \coordinate (rHabC) at (666,174);
    \coordinate (rHabD) at (686,152);
    \coordinate (rHabE) at (712,166);
    \coordinate (rHabF) at (718,170);
    \coordinate (rHabG) at (722,174);
    \coordinate (rHabH) at (724,179);
    \coordinate (rHabI) at (837,243);
    \coordinate (rOpin) at (644,234);
    \coordinate (tGovt) at (504,306);
    \coordinate (tAlgA) at (1017,265);
    \coordinate (pAt) at (952,62);
    \coordinate (pBt) at (1022,64);
    \coordinate (pCt) at (1093,64);
    \coordinate (pDr) at (1356,323);
    \coordinate (pDl) at (140,313);
    \coordinate (pEl) at (133,870);
    \coordinate (pEr) at (1363,869);
    \coordinate (pAb) at (954,983);
    \coordinate (pBb) at (1023,983);
    \coordinate (pCb) at (1095,983);
    \coordinate (tCompB) at (352,667);
    \coordinate (tArtB) at (233,776);
    \coordinate (dArtA) at (981,469);
    \coordinate (dHyper) at (405,475);
    \coordinate (tOrgB) at (905,573);
    \coordinate (tF1) at (730,545);
    \coordinate (tF2) at (728,550);
    \coordinate (tF3) at (723,552);
    \coordinate (rPoll) at (1134,472);
    \coordinate (dDrought) at (1206,501);
    \coordinate (dExcess) at (1272,454);
    \coordinate (tExcess) at (1280,406);
    \coordinate (tDrought) at (1244,434);
    \coordinate (dOilA) at (978,520);
    \coordinate (dOilB) at (972,525);
    \coordinate (dBiogas) at (1067,553);
    \coordinate (dBiofuel) at (1052,608);
    \coordinate (dAlgB) at (830,572);
    \coordinate (barA) at (575,632);
    \coordinate (barB) at (642,682);
    \coordinate (barC) at (693,720);
    \coordinate (barD) at (570,643);
    \coordinate (barE) at (595,662);
    \coordinate (barF) at (625,683);
    \coordinate (barG) at (655,705);
    \coordinate (barH) at (689,728);

    \begin{pgfonlayer}{back}
        % legend arrows
        \draw[rel] (lgA1) -- (lgA2);
        \draw[badrel] (lgB1) -- (lgB2);
        \draw[goodrel] (lgC1) -- (lgC2);

        % plain arrows
        \foreach \a/\b in {policies/susPol,policies/enePol,policies/fooPol,policies/traPol,policies/indPol,aCreates/policies,aCult/habitsA,cityC/aCult,cityC/aProtest,aInflB/cityC,aInflB/rOpin,aBuys/restaurants,aBuys/market,bazaar/market,bazaar/restaurants,bazaar/cityHall,govt/cityHall,aDistr/market,aDock/harbour,foreign/aDock,tanka/aDock,aTransImp/foreign,aTrans/tanka,people/bazaar,people/ironSig,ironSig/foodArea,ironSig/energyArea,ironSig/residence,boatP/foodArea,boatP/energyArea,boatC/residence,boatC/rHabI,aGenerate/orgOut,aGenerate/plasticOut,orgOut/collector,plasticOut/collector,waste/collector,aCollects/wastePlant,aCollects/landfillA,aProcess/orgA,aRecycles/plasticW,aAccum/fruitOut,aAccum/fishOut,orgA/fruitW,orgA/fishW,aToCreate/bioenA,biomat/compostA,biomat/altPlastic,energy/chemical,energy/refinery,aProdChem/artFertA,aProdRef/oil,aUse/orgB,aUse/dAlgB,food/producer,food/designer,producer/community,aUpgA/smallH,aUpgB/smallH,aUpgB/indProd,aProdPlant/hyper,eggs/foodPlant,chMeat/foodPlant,redMeat/foodPlant,milk/foodPlant,livestock/redMeat,livestock/milk,chickens/eggs,chickens/chMeat,aRaise/chickens,farm/aButcher,aButcher/livestock,livestock/manure,manure/aEnrich,compostB/aEnrich,aUseSoil/soil,aUseSoil/water,vegFarm/aUseSoil,rooftop/aUseSoil,aUpgTo/vegFarm,aDevVeg/rooftop,aToVeg/veggies,artFertB/aEnrichB,aEnrichB/soil,aUseFisher/boatRes,aUseFisher/fishFarm,boatRes/wildFish,aToFish/fish,aToFarm/fish,aDevInsect/insFarm,aRaiseIns/insects,aUseAlgae/wildAlg,aUseAlgae/algFarm,aHarvest/algaeC,aToAlgae/algaeC,barE/vegFarmer,barF/fisher,barG/insFarmer,barH/algFarmer,barD/livFarmer,community/barA,smallH/barB,indProd/barC,dHyper/imported,aUpgA/community,aDevLiv/farm} {
            \draw[rel] (\a) -- (\b);
        }
        \draw[rel] (aEnrich.south) ++(-7,0) -- (soil);
        \draw[rel] (aEnrich.south) ++(7,0) -- (soil);
        % plain lines under an action box
        \foreach \a/\b in {govt/aCreates,cityC/aBuys,harbour/aDistr,tanka/aSell,food/aTrans,imported/aTransImp,habitsB/aGenerate,collector/aCollects,wastePlant/aProcess,wastePlant/aRecycles,landfillA/aAccum,fruitW/aToCreate,fishW/aToCreate,foodPlant/aProdPlant,chickens/aRaise,farm/aRaise,soil/aToVeg,water/aToVeg,rooftop/aUpgTo,vegFarmer/aDevVeg,fisher/aUseFisher,insFarmer/aDevInsect,algFarmer/aUseAlgae,insFarm/aRaiseIns,wildAlg/aHarvest,algFarm/aToAlgae,wildFish/aToFish,fishFarm/aToFarm,livFarmer/aDevLiv,chemical/aProdChem,refinery/aProdRef,biofuelP/aUse} {
            \draw[relline] (\a) -- (\b);
        }
        \draw[rel] (aToCreate.70) -- (biomat.300);
        \draw[rel] (aToCreate.110) -- (biomat.240);
        \draw[rel, <->] (energy) -- (biofuelP);
        \draw[rel] (aSell) -- (people);

        % thick arrows between the pillars
        \foreach \a/\b in {aConsume/people,aFoodBy/food,aProdA/waste,aProdB/energy,aGens/energy,aProc/food,aUses/food,aUses/energy} {
            \draw[thickrel] (\a) -- (\b);
        }
        \foreach \a/\b in {aFoodBy/aConsume,people/aProdA,people/aProdB,waste/aGens} {
            \draw[thickline] (\a) -- (\b);
        }
        \draw[thickline] (waste.west) .. controls (790,458) and (770,465) .. (aProc.north);

        % negative arrows
        \foreach \a/\b in {conPrac/trust,trust/focus,focus/processed,processed/rHabA,focus/rHabB,trust/rHabC,susPrac/dTrad,plasticW/mixed,mixed/energyB,energyB/ghgA,aProdTanka/someGhg,aProdForeign/moreGhgA,unhealthyA/obesity,overProd/wastedF,wastedF/landfillB,aEntA/unhealthyA,aEntA/protestA,aEntB/overProd,aEntB/energyA,aEntC/unhealthyC,aEntC/protestC,aEntC/soilDeg,soilDeg/needsW,aPollute/ghgB,aPollute/polluted,aEntailsR/protestB,aEntailsR/excess,aEntailsR/drought,dOilA/ghgEco,aProdGas/ghgC,aProdFuel/ghgC} {
            \draw[badrel] (\a) -- (\b);
        }
        \foreach \a/\b in {tanka/aProdTanka,foreign/aProdForeign,hyper/aEntA,hyper/aEntB,artFertB/aEntC,fruitOut/aPollute,fishOut/aPollute,ghgB/aEntailsR,polluted/aEntailsR,dBiogas/aProdGas,dBiofuel/aProdFuel,rPoll/aAffA,dDrought/aAffB,dExcess/aAffC} {
            \draw[badline] (\a) -- (\b);
        }
        \draw[badrel] (rIndPol) .. controls (300,250) and (300,205) .. (340,180) .. controls (390,145) and (440,120) .. (rConPrac);
        \draw[badline] (ghgA.south east) .. controls (1195,275) and (1205,290) .. (aMayA);
        \draw[badrel] (aMayA) .. controls (1238,350) and (1247,400) .. (tDrought);
        \draw[badline] (ghgA.east) .. controls (1210,270) and (1235,295) .. (aMayB);
        \draw[badrel] (aMayB) .. controls (1262,345) and (1276,375) .. (tExcess);
        \draw[badrel] (pEl) -- (165,869) .. controls (205,869) and (210,830) .. (215,808) .. controls (220,790) and (225,782) .. (tArtB);
        \draw[badrel] (dArtA) .. controls (1060,468) and (1130,490) .. (1190,530) .. controls (1270,580) and (1300,640) .. (1293,690) .. controls (1288,730) and (1267,770) .. (1267,800) .. controls (1267,850) and (1310,870) .. (pEr);
        \draw[badrel] (aAffA) .. controls (1095,590) and (1050,630) .. (1000,653) .. controls (960,668) and (905,660) .. (873,647) .. controls (830,640) and (785,615) .. (tF3);
        \draw[badrel] (aAffB) .. controls (1130,610) and (1070,665) .. (1000,673) .. controls (960,678) and (905,675) .. (873,653) .. controls (825,630) and (785,590) .. (tF2);
        \draw[badrel] (aAffC) .. controls (1170,630) and (1090,690) .. (1000,698) .. controls (950,702) and (905,680) .. (852,620) .. controls (820,595) and (770,565) .. (tF1);

        % positive arrows
        \foreach \a/\b in {conPrac/dEcon,susPrac/wasteSep,wasteSep/reduce,reduce/zeroW,zeroW/localP,localP/susDiet,wasteSep/rHabD,reduce/rHabE,zeroW/rHabF,localP/rHabG,susDiet/rHabH,aConsumed/algaeC,aToProdA/bioenB,aToProdB/bioenB,bioenB/biogas,bioenB/biofuel} {
            \draw[goodrel] (\a) -- (\b);
        }
        \draw[goodrel] (dOilB) -- (ghgEco);
        \foreach \a/\b in {orgB/aToProdA,algaeB/aToProdB,co2/aConsumed} {
            \draw[goodline] (\a) -- (\b);
        }
        \draw[goodrel] (rSusPol) .. controls (468,85) and (540,35) .. (rSusPrac);
        \draw[goodrel] (ghgC) .. controls (1190,720) and (1100,800) .. (1000,868) .. controls (950,900) and (890,925) .. (co2.east);

        % long curves
        \draw[rel] (aInflA.west) .. controls (520,220) and (490,250) .. (policies.north east);
        \draw[rel] (aInflA.east) .. controls (600,214) and (625,222) .. (rOpin);
        \draw[rel] (aProtest.south west) .. controls (525,258) and (505,275) .. (tGovt);
        \draw[rel] (aProtest.south) .. controls (548,265) and (550,275) .. (cityP.north);
        \draw[rel] (aProtest.north east) .. controls (600,222) and (640,215) .. (660,217) .. controls (695,220) and (720,235) .. (boatP.north west);
        \draw[relline] (habitsA.east) .. controls (760,184) and (790,190) .. (aRepeats);
        \draw[rel] (aRepeats) .. controls (815,220) and (825,232) .. (rHabI);
        \draw[rel] (compostA.north east) .. controls (1000,145) and (1100,135) .. (1170,148) .. controls (1260,165) and (1300,240) .. (1312,280) .. controls (1320,305) and (1325,323) .. (pDr);
        \draw[rel] (pAt) .. controls (952,90) and (950,115) .. (975,133) .. controls (1010,160) and (1052,180) .. (1051,222) .. controls (1050,245) and (1035,262) .. (tAlgA);
        \draw[rel] (bioenA.east) .. controls (1030,235) and (1042,210) .. (1040,180) .. controls (1038,150) and (1022,130) .. (1022,100) -- (pBt);
        \draw[rel] (orgA.east) .. controls (990,345) and (1060,260) .. (1082,193) .. controls (1092,160) and (1093,130) .. (pCt);
        \draw[rel] (pDl) -- (170,313) .. controls (200,320) and (195,350) .. (185,365) .. controls (150,420) and (150,480) .. (190,550) .. controls (225,610) and (300,630) .. (tCompB);
        \draw[rel] (algaeC.east) .. controls (740,925) and (830,890) .. (855,800) .. controls (878,720) and (868,650) .. (algaeB.south);
        \draw[rel] (algaeC.south) .. controls (670,985) and (740,985) .. (800,970) .. controls (860,955) and (950,930) .. (pAb);
        \draw[rel] (pBb) .. controls (1023,880) and (1000,815) .. (985,780) .. controls (960,710) and (960,660) .. (bioenB.south);
        \draw[rel] (pCb) .. controls (1093,880) and (1075,800) .. (1040,745) .. controls (1010,700) and (960,650) .. (925,597) -- (tOrgB);
    \end{pgfonlayer}

    % close-up panel
    \fill[white] (1437,0) rectangle (1810,1068);
    \begin{scope}
        \clip (1437,0) rectangle (1810,1068);
        \fill[blobfill] plot[smooth, tension=.7] coordinates {(1850,105) (1747,100) (1655,134) (1638,186) (1647,379) (1607,540) (1563,702) (1527,805) (1563,873) (1637,907) (1747,880) (1850,830)} -- (1850,105);
        \draw[framered, line width=2pt] (1437,0) -- (1437,1068);
        \pic[scale=2] at (1683,45) {ut=gwaste};
        \pic[scale=2] at (1647,81) {ut=gbolt};
        \pic[scale=2] at (1719,81) {ut=gchicken};
        \pic[scale=2] at (1683,117) {ut=gplant};
        \pic[scale=2] at (1530,708) {gt=gchicken};
        \pic[scale=2] at (1492,745) {gt=gplant};
        \pic[scale=2] at (1567,745) {gt=gcoin};
        \pic[scale=2] at (1437,1060) {ut=gcoin};
        \pic[scale=2.55] at (1426,207) {dr=gcloud};
        \pic[scale=2.5] at (1518,193) {gtree};

        \node[locbox, big, minimum width=126pt, minimum height=96pt] (panBazaar) at (1505,68) {Bazaar City};
        \node[outbox, big, minimum width=128pt, minimum height=86pt] (panGhg) at (1482,266) {Some GHG\\emissions};
        \node[actbox, big, minimum width=98pt, minimum height=28pt] (panProd) at (1474,421) {produces};
        \node[actorbox, big, minimum width=128pt, minimum height=85pt] (panTanka) at (1490,522) {Tanka local\\distribution\\boat};
        \node[actbox, big, minimum width=116pt, minimum height=54pt] (panTrans) at (1486,628) {transported\\by};
        \node[actorbox, big, minimum width=128pt, minimum height=85pt] (panProducer) at (1460,943) {Producer\\(farmer/fisher)};
        \node[actorbox, big, minimum width=128pt, minimum height=85pt] (panDesigner) at (1657,1021) {Food\\designer};
        \node[actbox, big, minimum width=104pt, minimum height=33pt] (panSell) at (1580,357) {sell to};
        \node[actbox, big, minimum width=104pt, minimum height=75pt] (panConsume) at (1715,337) {people\\consume\\food};
        \node[actbox, big, minimum width=104pt, minimum height=75pt] (panFoodBy) at (1655,621) {food is\\produced\\by people};
        \node[actbox, big, minimum width=130pt, minimum height=55pt] (panProc) at (1817,600) {is processed\\to enrich};
        \node[actbox, big, minimum width=130pt, minimum height=34pt] (panUses) at (1845,731) {uses};
        \node[pillarbox, bigpillar, minimum width=119pt, minimum height=89pt] (panPeople) at (1733.5,174.5) {\textbf{People}\\(consumers\\and\\producers)};
        \node[pillarbox, bigpillar, minimum width=118pt, minimum height=77pt] (panFood) at (1625,797.5) {\textbf{Food}\\(production)};
        \pic[scale=3] at (1513,1052) {glock};
        \draw[actorfill, line width=8pt, fill=white, rounded corners=14pt] (1654,1049) rectangle (1778,1120);
        \pic[scale=4] at (1716,1095) {gdesigner};

        \coordinate (panOffA) at (1840,358);
        \coordinate (panOffB) at (1840,215);
        \coordinate (panOffC) at (1785,50);
        \coordinate (panF1) at (1850,934);
        \coordinate (panF2) at (1850,976);
        \coordinate (panF3) at (1850,1058);
        \coordinate (panFa) at (1707,838);
        \coordinate (panFb) at (1698,859);
        \coordinate (panFc) at (1678,870);
        \coordinate (panT) at (1523,680);
        \coordinate (panTb) at (1498,573);
        \coordinate (panBazTip) at (1573,119);
        \coordinate (panPeoLeft) at (1670,165);
        \coordinate (panSellA) at (1545,480);
        \coordinate (panSellC) at (1593,374);
        \coordinate (panSellD) at (1607,340);
        \coordinate (panSellTip) at (1669,229);
        \coordinate (panLineA) at (1663,584);
        \coordinate (panLineB) at (1697,374);
        \coordinate (panLineC) at (1710,300);
        \coordinate (panTipA) at (1722,231);
        \coordinate (panStartB) at (1592,840);
        \coordinate (panTipB) at (1525,919);
        \coordinate (panRedA) at (1486,480);
        \coordinate (panRedB) at (1466,317);
        \coordinate (panRedC) at (1483,435);
        \coordinate (panRedD) at (1470,407);

        \draw[panelmid] (panPeoLeft) -- (panBazTip);
        \draw[black, line width=3pt] (panSellA) -- (panSellC);
        \draw[panelmid] (panSellD) -- (panSellTip);
        \draw[black, line width=7pt] (panLineA) -- (panLineB);
        \draw[panelthick] (panLineC) -- (panTipA);
        \draw[panelthick] (panFoodBy.south) -- (panFood);
        \draw[panelthick] (panProc) -- (panFood.north east);
        \draw[panelthick] (panUses) -- (panFood.east);
        \draw[black, line width=7pt] (panPeople.south east) ++(-18,0) -- (panOffA);
        \draw[black, line width=7pt] (panPeople) -- (panOffB);
        \draw[black, line width=3pt] (panPeople.north east) ++(-18,0) -- (panOffC);
        \draw[panelmid] (panStartB) -- (panTipB);
        \draw[panelmid] (panFood) -- (panDesigner);
        \draw[black, line width=3pt] (panT) -- (panTrans);
        \draw[panelmid] (panTrans) -- (panTb);
        \draw[badred, line width=2.5pt] (panRedA) -- (panRedC);
        \draw[panelbad] (panRedD) -- (panRedB);
        \draw[panelbad] (panF1) -- (panFa);
        \draw[panelbad] (panF2) -- (panFb);
        \draw[panelbad] (panF3) -- (panFc);
    \end{scope}
    \fill[framered] (1437,3) rectangle (1810,65);
    \node[anchor=west, inner sep=0pt, text=white, font=\closefont\fontsize{39.5}{40}\selectfont\bfseries] (closeTitle) at (1447,34) {CLOSE-UP};
\end{tikzpicture}
\end{document}
